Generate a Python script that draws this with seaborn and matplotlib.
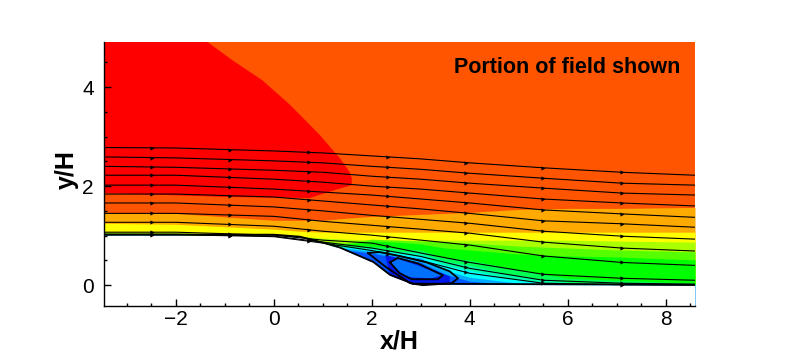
import numpy as np
import pandas as pd
import matplotlib
matplotlib.use("Agg")
import matplotlib.pyplot as plt
from matplotlib.ticker import MultipleLocator
import seaborn as sns

# x stations where the contour band edges were read
x_st = [-3.48, -2, 0, 0.53, 1, 1.45, 2, 2.5, 3, 3.5, 4, 5, 6, 7, 8.6]

# top edge of each colour band, from the top of the field down to the wall
amber = [1.47, 1.45, 1.31, 1.31, 1.31, 1.35, 1.39, 1.41, 1.43, 1.45, 1.47, 1.53, 1.55, 1.55, 1.57]
yellow = [1.25, 1.23, 1.13, 1.09, 1.07, 1.07, 1.07, 1.07, 1.07, 1.07, 1.07, 1.07, 1.07, 1.07, 1.07]
lime = [1.07, 1.06, 1.02, 0.99, 0.95, 0.93, 0.91, 0.91, 0.91, 0.91, 0.91, 0.91, 0.91, 0.89, 0.87]
lgreen = [1.05, 1.04, 1.00, 0.95, 0.89, 0.85, 0.93, 0.91, 0.89, 0.87, 0.85, 0.79, 0.75, 0.71, 0.67]
green = [1.04, 1.03, 0.99, 0.93, 0.85, 0.83, 0.89, 0.87, 0.83, 0.75, 0.71, 0.63, 0.59, 0.57, 0.51]
sgreen = [1.03, 1.02, 0.98, 0.93, 0.87, 0.81, 0.79, 0.75, 0.71, 0.55, 0.51, 0.30, 0.14, 0.10, 0.04]
teal = [1.02, 1.01, 0.97, 0.91, 0.83, 0.79, 0.75, 0.69, 0.65, 0.48, 0.40, 0.18, 0.06, 0.03, 0.01]
cyan = [1.01, 1.01, 0.96, 0.89, 0.81, 0.77, 0.73, 0.65, 0.59, 0.40, 0.30, 0.10, 0.02, 0.0, 0.0]
sky = [1.01, 1.01, 0.95, 0.88, 0.79, 0.75, 0.69, 0.61, 0.55, 0.30, 0.16, 0.04, 0.0, 0.0, 0.0]
blue = [1.01, 1.01, 0.95, 0.87, 0.77, 0.71, 0.65, 0.55, 0.46, 0.22, 0.08, 0.0, 0.0, 0.0, 0.0]
bands = [amber, yellow, lime, lgreen, green, sgreen, teal, cyan, sky, blue]
band_colors = ["#FFAA00", "#FFFF00", "#AAFF00", "#55FF00", "#00FF00", "#00FF55",
               "#00FFAA", "#00FFFF", "#00AAFF", "#0055FF"]

# red high speed region
red_x = [-3.48, -1.41, -0.86, -0.24, 0.33, 0.94, 1.35, 1.55, 1.59, 1.59, 1.24, 0.73, -0.9, -3.48]
red_y = [4.95, 4.95, 4.55, 4.14, 3.64, 3.03, 2.56, 2.28, 2.16, 2.02, 1.92, 1.76, 1.78, 1.86]

# recirculation bubble
bub_x = [2.27, 2.73, 3.18, 3.59, 3.59, 2.98, 2.78, 2.37, 2.27]
bub_y = [0.61, 0.51, 0.34, 0.18, 0.04, 0.0, 0.02, 0.2, 0.61]
core_x = [2.37, 2.53, 2.94, 3.43, 3.22, 2.73, 2.47, 2.37]
core_y = [0.46, 0.53, 0.40, 0.20, 0.14, 0.16, 0.34, 0.46]

# body under the flow
wall_x = [-3.48, 0, 0.53, 1, 1.35, 2.03, 2.37, 2.84, 8.6]
wall_y = [1.01, 1.01, 0.97, 0.85, 0.75, 0.46, 0.20, 0.02, 0.0]

# streamlines
line_x = [-3.48, -2, 0, 1, 2, 3, 4, 5.5, 7.1, 8.6]
lines = [
    [2.78, 2.77, 2.71, 2.67, 2.61, 2.55, 2.47, 2.37, 2.28, 2.22],
    [2.59, 2.57, 2.51, 2.47, 2.40, 2.34, 2.26, 2.16, 2.06, 2.02],
    [2.40, 2.38, 2.32, 2.28, 2.20, 2.14, 2.06, 1.96, 1.86, 1.82],
    [2.22, 2.22, 2.14, 2.08, 2.00, 1.94, 1.86, 1.74, 1.66, 1.60],
    [2.02, 2.02, 1.94, 1.88, 1.82, 1.74, 1.66, 1.52, 1.44, 1.37],
    [1.84, 1.84, 1.78, 1.70, 1.62, 1.54, 1.45, 1.30, 1.24, 1.17],
    [1.66, 1.66, 1.58, 1.50, 1.41, 1.33, 1.25, 1.09, 0.99, 0.93],
    [1.45, 1.45, 1.39, 1.29, 1.21, 1.13, 1.05, 0.87, 0.75, 0.69],
    [1.27, 1.27, 1.19, 1.09, 1.01, 0.91, 0.81, 0.59, 0.46, 0.40],
    [1.07, 1.07, 1.01, 0.91, 0.85, 0.65, 0.46, 0.22, 0.14, 0.10],
    [1.03, 1.03, 0.99, 0.87, 0.75, 0.58, 0.34, 0.10, 0.04, 0.02],
    [1.02, 1.02, 0.98, 0.85, 0.70, 0.50, 0.24, 0.04, 0.01, 0.0],
]
arrow_x = [-2.49, -0.9, 0.71, 2.33, 3.92, 5.49, 7.1]

# closed loops inside the bubble
loop1_x = [1.92, 2.16, 2.57, 3.12, 3.59, 3.76, 3.63, 3.04, 2.78, 2.27, 1.92]
loop1_y = [0.65, 0.67, 0.59, 0.46, 0.28, 0.14, 0.04, 0.0, 0.04, 0.38, 0.65]
loop2_x = [2.37, 2.53, 2.94, 3.45, 3.35, 2.82, 2.57, 2.37]
loop2_y = [0.46, 0.55, 0.44, 0.20, 0.12, 0.12, 0.24, 0.46]

x_ticks = [-2, 0, 2, 4, 6, 8]
y_ticks = [0, 2, 4]

sns.set_theme(style="ticks")
plt.rcParams["font.family"] = ["Liberation Sans", "DejaVu Sans"]

fig = plt.figure(figsize=(7.91, 3.53), dpi=100)
ax = fig.add_axes([103.5 / 791, 47 / 353, 591.5 / 791, 264 / 353])
ax.set_xlim(-3.48, 8.6)
ax.set_ylim(-0.42, 4.91)
ax.set_axisbelow(False)

ax.set_facecolor("#FF5500")
ax.fill(red_x, red_y, color="#FF0000", lw=0)
for edge, col in zip(bands, band_colors):
    ax.fill_between(x_st, edge, -1, color=col, lw=0)
ax.fill(bub_x, bub_y, color="#0018E8", lw=0)
ax.fill(core_x, core_y, color="#0070FF", lw=0)
ax.fill_between(wall_x, wall_y, -1, color="white", lw=0, zorder=2)

# streamlines and their arrow heads
frames = []
for n, vals in enumerate(lines):
    frames.append(pd.DataFrame({"x": line_x, "y": vals, "line": n}))
df = pd.concat(frames)
sns.lineplot(data=df, x="x", y="y", units="line", estimator=None, sort=False,
             color="black", lw=0.8, ax=ax, zorder=3)
for vals in lines:
    sns.scatterplot(x=arrow_x, y=np.interp(arrow_x, line_x, vals), marker=">", s=9,
                    color="black", lw=0, ax=ax, zorder=3)
for lx, ly in [(loop1_x, loop1_y), (loop2_x, loop2_y)]:
    sns.lineplot(x=lx, y=ly, sort=False, estimator=None, color="black", lw=1.3, ax=ax, zorder=3)
sns.lineplot(x=wall_x, y=np.array(wall_y) + 0.01, sort=False, estimator=None,
             color="black", lw=1.3, ax=ax, zorder=3)

sns.despine(ax=ax)
for side in ["left", "bottom"]:
    ax.spines[side].set_linewidth(1.0)
    ax.spines[side].set_color("black")
ax.set_xticks(x_ticks)
ax.set_yticks(y_ticks)
ax.xaxis.set_minor_locator(MultipleLocator(0.5))
ax.yaxis.set_minor_locator(MultipleLocator(0.5))
ax.tick_params(which="major", direction="in", length=5, width=1, labelsize=15, color="black", labelcolor="black")
ax.tick_params(which="minor", direction="in", length=2.5, width=1, color="black", left=True, bottom=True)
ax.tick_params(axis="x", which="major", pad=3)
ax.tick_params(axis="y", which="major", pad=7)
ax.set_xlabel("x/H", fontsize=18, fontweight="bold", labelpad=0, color="black")
ax.set_ylabel("y/H", fontsize=18, fontweight="bold", labelpad=2, color="black", y=0.515)
ax.text(0.976, 0.905, "Portion of field shown", transform=ax.transAxes, ha="right", va="center",
        fontsize=15.5, fontweight="bold", color="black", zorder=5)

fig.savefig("out.png", dpi=100)
